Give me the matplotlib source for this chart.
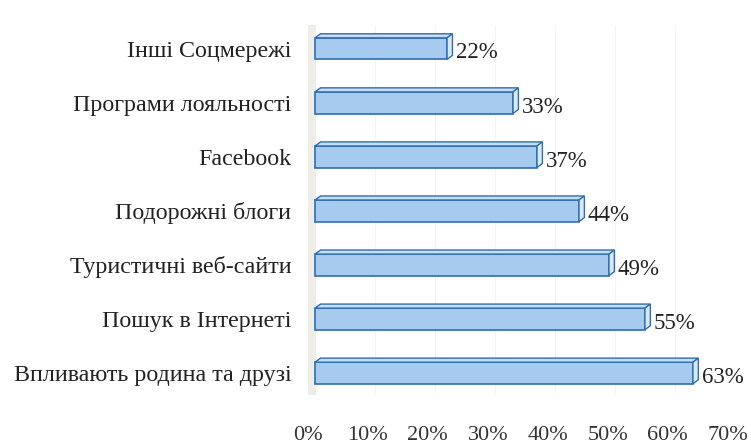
import matplotlib.pyplot as plt
from matplotlib.patches import Polygon

categories = ["Впливають родина та друзі", "Пошук в Інтернеті", "Туристичні веб-сайти",
              "Подорожні блоги", "Facebook", "Програми лояльності", "Інші Соцмережі"]
values = [0.63, 0.55, 0.49, 0.44, 0.37, 0.33, 0.22]
ticks = [0.0, 0.1, 0.2, 0.3, 0.4, 0.5, 0.6, 0.7]
tick_labels = ["0%", "10%", "20%", "30%", "40%", "50%", "60%", "70%"]

plt.rcParams['font.family'] = ['Liberation Serif', 'DejaVu Serif']

fig = plt.figure(figsize=(7.51, 4.44), dpi=100)
ax = fig.add_axes([0.410, 0.110, 0.559, 0.834])

face = "#a6cbef"
edge = "#2f6db3"
h = 0.40
base = 0.012            # 3D depth shift of the bars
dx, dy = 0.009, 0.075   # fake 3D cap

# side wall and faint grid
ax.axvspan(0.0, base, color="#efede8", zorder=0)
for t in ticks[1:]:
    ax.axvline(t + base, color="#f3f3f3", lw=0.8, zorder=0)

for i, v in enumerate(values):
    x1 = base + v
    ax.barh(i, v, left=base, height=h, color=face, edgecolor=edge, lw=1.2, zorder=3)
    top = Polygon([(base, i + h / 2), (x1, i + h / 2), (x1 + dx, i + h / 2 + dy), (base + dx, i + h / 2 + dy)],
                  closed=True, facecolor="#c4def6", edgecolor=edge, lw=1.0, zorder=3)
    side = Polygon([(x1, i - h / 2), (x1 + dx, i - h / 2 + dy), (x1 + dx, i + h / 2 + dy), (x1, i + h / 2)],
                   closed=True, facecolor="#d8eafa", edgecolor=edge, lw=1.0, zorder=3)
    ax.add_patch(top)
    ax.add_patch(side)
    ax.text(x1 + dx + 0.006, i - 0.08, f"{round(v * 100)}%", va="center", ha="left",
            fontsize=16.5, color="#222222")

ax.set_xlim(0.0, 0.70)
ax.set_ylim(-0.41, 6.44)
ax.set_yticks(range(len(categories)))
ax.set_yticklabels(categories, fontsize=17.3, color="#222222")
ax.set_xticks(ticks)
ax.set_xticklabels(tick_labels, fontsize=16, color="#333333")
ax.tick_params(axis="y", length=0, pad=12)
ax.tick_params(axis="x", length=0, pad=22)
for s in ax.spines.values():
    s.set_visible(False)

plt.savefig("out.png", dpi=100)
